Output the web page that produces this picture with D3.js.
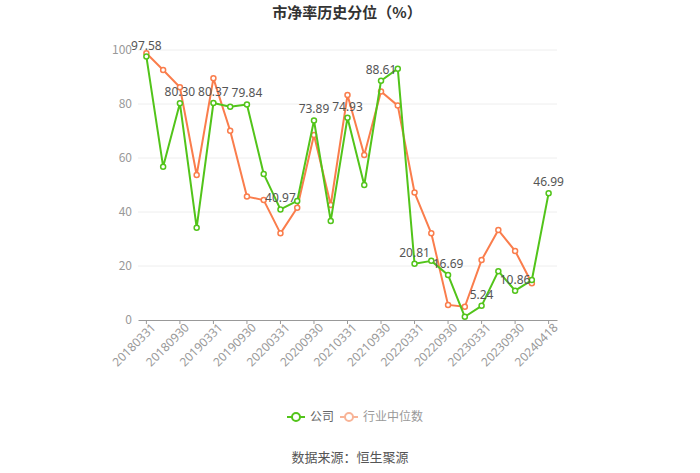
<!DOCTYPE html>
<html>
<head>
<meta charset="utf-8">
<script src="https://cdn.jsdelivr.net/npm/d3@7"></script>
<style>
  body { margin: 0; background: #fff; }
  svg { font-family: "Noto Sans CJK SC", "Noto Sans", sans-serif; }
</style>
</head>
<body>
<svg id="chart" width="700" height="473"></svg>
<script>
// 日期（季度末 + 最新日期）
const dates = [
  "20180331", "20180630", "20180930", "20181231",
  "20190331", "20190630", "20190930", "20191231",
  "20200331", "20200630", "20200930", "20201231",
  "20210331", "20210630", "20210930", "20211231",
  "20220331", "20220630", "20220930", "20221231",
  "20230331", "20230630", "20230930", "20231231",
  "20240418"
];
// 公司
const companyValues = [
  97.58, 56.8, 80.30, 34.2, 80.37, 79.0, 79.84, 54.1,
  40.97, 44.1, 73.89, 36.7, 74.93, 50.0, 88.61, 93.1,
  20.81, 21.9, 16.69, 1.2, 5.24, 18.1, 10.86, 14.8,
  46.99
];
// 行业中位数（最后一天无数据）
const industryValues = [
  98.8, 92.6, 86.2, 53.7, 89.5, 70.1, 45.7, 44.4,
  32.1, 41.6, 68.5, 42.6, 83.3, 61.1, 84.6, 79.4,
  47.2, 32.1, 5.6, 4.9, 22.2, 33.3, 25.6, 13.6,
  null
];
const yTicks = [0, 20, 40, 60, 80, 100];

const green = "#52c41a";
const orange = "#fa7d4c";

const svg = d3.select("#chart");
const margin = { left: 138, right: 143, top: 50, bottom: 153 };
const W = 700, H = 473;
const innerW = W - margin.left - margin.right;
const innerH = H - margin.top - margin.bottom;

const g = svg.append("g").attr("transform", `translate(${margin.left},${margin.top})`);

const x = d3.scaleBand().domain(dates).range([0, innerW]);
const y = d3.scaleLinear().domain([0, 100]).range([innerH, 0]);
const cx = (d) => x(d) + x.bandwidth() / 2;

// 标题
svg.append("text")
  .attr("x", 347).attr("y", 18)
  .attr("text-anchor", "middle")
  .style("font-size", "15px").style("font-weight", "bold").style("fill", "#333")
  .text("市净率历史分位（%）");

// 网格线
g.selectAll(".grid").data(yTicks.filter(t => t > 0)).enter().append("line")
  .attr("x1", 0).attr("x2", innerW)
  .attr("y1", d => y(d)).attr("y2", d => y(d))
  .attr("stroke", "#eeeeee").attr("stroke-width", 1);

// Y 轴标签
g.selectAll(".ylab").data(yTicks).enter().append("text")
  .attr("x", -6).attr("y", d => y(d)).attr("dy", "0.35em")
  .attr("text-anchor", "end")
  .style("font-size", "12px").style("fill", "#999")
  .text(d => d);

// X 轴
const xAxis = d3.axisBottom(x)
  .tickValues(dates.filter((d, i) => i % 2 === 0))
  .tickSize(4).tickSizeOuter(0);
const xg = g.append("g").attr("transform", `translate(0,${innerH})`).call(xAxis);
xg.select(".domain").attr("stroke", "#999");
xg.selectAll(".tick line").attr("stroke", "#999");
xg.selectAll(".tick text")
  .style("font-size", "12px").style("fill", "#999")
  .style("font-family", "'Noto Sans', sans-serif")
  .attr("text-anchor", "end")
  .attr("dx", "0.1em").attr("dy", "0.5em")
  .attr("transform", "rotate(-45)");

// 折线
const line = d3.line()
  .defined(d => d.v != null)
  .x(d => cx(d.date)).y(d => y(d.v));

const industry = dates.map((d, i) => ({ date: d, v: industryValues[i] }));
const company = dates.map((d, i) => ({ date: d, v: companyValues[i] }));

const drawSeries = (data, color) => {
  g.append("path").datum(data)
    .attr("fill", "none").attr("stroke", color).attr("stroke-width", 2)
    .attr("stroke-linejoin", "round")
    .attr("d", line);
  g.selectAll(null).data(data.filter(d => d.v != null)).enter().append("circle")
    .attr("cx", d => cx(d.date)).attr("cy", d => y(d.v))
    .attr("r", 2.5).attr("fill", "#fff")
    .attr("stroke", color).attr("stroke-width", 1.5);
};
drawSeries(industry, orange);
drawSeries(company, green);

// 数据标签（公司，隔一个显示）
g.selectAll(".lbl").data(company.filter((d, i) => i % 2 === 0)).enter().append("text")
  .attr("x", d => cx(d.date)).attr("y", d => y(d.v) - 7)
  .attr("text-anchor", "middle")
  .style("font-size", "12px").style("fill", "#555")
  .style("font-family", "'Noto Sans', sans-serif")
  .text(d => d.v.toFixed(2));

// 图例
const legend = svg.append("g").attr("transform", "translate(287,417)");
const legendItems = [
  { name: "公司", color: green, text: "#666" },
  { name: "行业中位数", color: "#f8b497", text: "#999" }
];
const offsets = [0, 53];
legendItems.forEach((item, i) => {
  const lg = legend.append("g").attr("transform", `translate(${offsets[i]},0)`);
  lg.append("line").attr("x1", 0).attr("x2", 18).attr("y1", 0).attr("y2", 0)
    .attr("stroke", item.color).attr("stroke-width", 2);
  lg.append("circle").attr("cx", 9).attr("cy", 0).attr("r", 4)
    .attr("fill", "#fff").attr("stroke", item.color).attr("stroke-width", 2);
  lg.append("text").attr("x", 23).attr("y", 0).attr("dy", "0.35em")
    .style("font-size", "12px").style("fill", item.text)
    .text(item.name);
});

// 数据来源
svg.append("text")
  .attr("x", 350).attr("y", 462)
  .attr("text-anchor", "middle")
  .style("font-size", "13px").style("fill", "#555")
  .text("数据来源：恒生聚源");
</script>
</body>
</html>
